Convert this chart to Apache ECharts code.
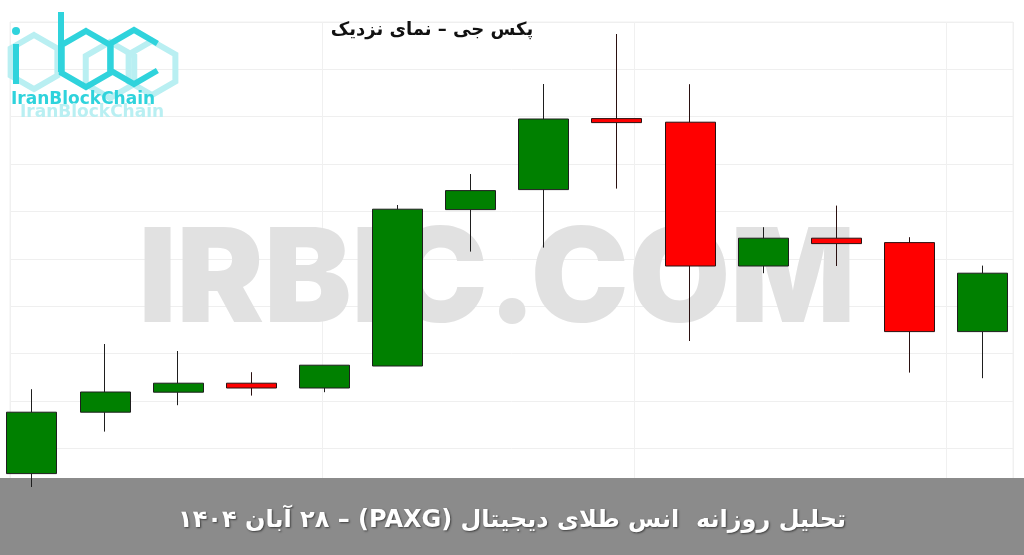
<!DOCTYPE html>
<html>
<head>
<meta charset="utf-8">
<script src="https://cdn.jsdelivr.net/npm/echarts@6/dist/echarts.min.js"></script>
<style>
html,body{margin:0;padding:0;background:#fff;}
#c{width:1024px;height:555px;direction:rtl;}
</style>
</head>
<body>
<div id="c" dir="rtl"></div>
<script>
// ---- data (y = price, no axis labels visible) ----
const categories = ['2025-11-06','2025-11-07','2025-11-08','2025-11-09','2025-11-10','2025-11-11','2025-11-12','2025-11-13','2025-11-14','2025-11-15','2025-11-16','2025-11-17','2025-11-18','2025-11-19'];
const opens  = [3963.2, 3993.9, 4003.9, 4008.4, 4006.0, 4017.0, 4095.2, 4105.2, 4140.7, 4138.9, 4067.0, 4080.9, 4078.7, 4034.2];
const closes = [3993.9, 4004.0, 4008.4, 4006.0, 4017.4, 4095.4, 4104.7, 4140.5, 4138.7, 4067.0, 4080.9, 4078.2, 4034.2, 4063.4];
const lows   = [3956.5, 3984.2, 3997.4, 4002.2, 4003.9, 4017.0, 4074.2, 4076.2, 4105.7, 4029.5, 4063.4, 4067.0, 4013.7, 4010.9];
const highs  = [4005.4, 4028.0, 4024.5, 4013.9, 4017.4, 4097.5, 4113.0, 4158.0, 4183.0, 4157.9, 4086.4, 4097.2, 4081.4, 4067.2];
const titleText = 'پکس جی – نمای نزدیک';
const bannerText = 'تحلیل روزانه  انس طلای دیجیتال (PAXG) – ۲۸ آبان ۱۴۰۴';
const watermarkText = 'IRBIC.COM';
const logoText = 'IranBlockChain';

const ohlc = opens.map((o, i) => [o, closes[i], lows[i], highs[i]]);

function hexPts(cx, cy, r) {
  const s = r * Math.sqrt(3) / 2;
  return [[cx, cy - r], [cx + s, cy - r / 2], [cx + s, cy + r / 2], [cx, cy + r], [cx - s, cy + r / 2], [cx - s, cy - r / 2]];
}
const cyan = '#2fd3dc';
const cyanLight = '#b9eff2';

const chart = echarts.init(document.getElementById('c'));
const faintHex = [[34, 62, 27], [110, 70, 28], [152, 68, 27]].map(h => ({
  type: 'polygon', z: 1, silent: true,
  shape: { points: hexPts(h[0], h[1], h[2]) },
  style: { fill: 'none', stroke: cyanLight, lineWidth: 6 }
}));
const cHex = hexPts(134, 57, 27);
chart.setOption({
  animation: false,
  backgroundColor: '#ffffff',
  grid: [
    { left: -4.6, width: 1023.8, top: 0, height: 500, outerBoundsMode: 'none' },
    { left: 10, top: 22, width: 1003, height: 473.7, show: true, borderColor: '#f0f0f0', borderWidth: 1, outerBoundsMode: 'none' }
  ],
  xAxis: [
    { type: 'category', data: categories, gridIndex: 0, boundaryGap: true, show: false },
    { type: 'value', gridIndex: 1, min: 0, max: 3.215, interval: 1,
      axisLine: { show: false }, axisTick: { show: false }, axisLabel: { show: false },
      splitLine: { show: true, lineStyle: { color: '#f0f0f0', width: 1 } } }
  ],
  yAxis: [
    { type: 'value', gridIndex: 0, min: 3950, max: 4200, show: false, splitLine: { show: false } },
    { type: 'value', gridIndex: 1, min: 0, max: 10, interval: 1,
      axisLine: { show: false }, axisTick: { show: false }, axisLabel: { show: false },
      splitLine: { show: true, lineStyle: { color: '#efefef', width: 1 } } }
  ],
  graphic: [
    { type: 'rect', z: 1, silent: true, shape: { x: 0, y: 478, width: 1024, height: 77 }, style: { fill: '#8b8b8b' } },
    { type: 'text', z: 1, silent: true, x: 497, y: 283,
      style: { text: watermarkText, font: '900 131px Inter', fill: '#e1e1e1', align: 'center', verticalAlign: 'middle' } },
    ...faintHex,
    // i
    { type: 'line', z: 1, silent: true, shape: { x1: 16, y1: 44, x2: 16, y2: 84 }, style: { stroke: cyan, lineWidth: 6 } },
    { type: 'circle', z: 1, silent: true, shape: { cx: 16, cy: 31, r: 4 }, style: { fill: cyan } },
    // b
    { type: 'line', z: 1, silent: true, shape: { x1: 61, y1: 12, x2: 61, y2: 72 }, style: { stroke: cyan, lineWidth: 6 } },
    { type: 'polygon', z: 1, silent: true, shape: { points: hexPts(86, 59, 28) }, style: { fill: 'none', stroke: cyan, lineWidth: 6 } },
    // c
    { type: 'polyline', z: 1, silent: true, shape: { points: [cHex[1], cHex[0], cHex[5], cHex[4], cHex[3], cHex[2]] }, style: { stroke: cyan, lineWidth: 6, fill: 'none' } },
    { type: 'text', z: 1, silent: true, x: 11, y: 100,
      style: { text: logoText, font: 'bold 17px "DejaVu Sans"', fill: cyan, verticalAlign: 'middle' } },
    { type: 'text', z: 1, silent: true, x: 20, y: 113,
      style: { text: logoText, font: 'bold 17px "DejaVu Sans"', fill: cyanLight, verticalAlign: 'middle' } },
    { type: 'text', z: 10, silent: true, x: 432, y: 30,
      style: { text: titleText, font: 'bold 18px "DejaVu Sans"', fill: '#111', align: 'center', verticalAlign: 'middle' } },
    { type: 'text', z: 10, silent: true, x: 512, y: 521,
      style: { text: bannerText, font: 'bold 24px "DejaVu Sans"', fill: '#ffffff', align: 'center', verticalAlign: 'middle',
               textShadowColor: 'rgba(0,0,0,0.55)', textShadowBlur: 2, textShadowOffsetX: 1, textShadowOffsetY: 1 } }
  ],
  series: [{
    type: 'candlestick',
    xAxisIndex: 0, yAxisIndex: 0,
    data: ohlc,
    barWidth: 50.5,
    z: 3,
    itemStyle: {
      color: '#008000', color0: '#ff0000',
      borderColor: '#1e1e1e', borderColor0: '#2a1010', borderWidth: 1
    }
  }]
});
</script>
</body>
</html>
